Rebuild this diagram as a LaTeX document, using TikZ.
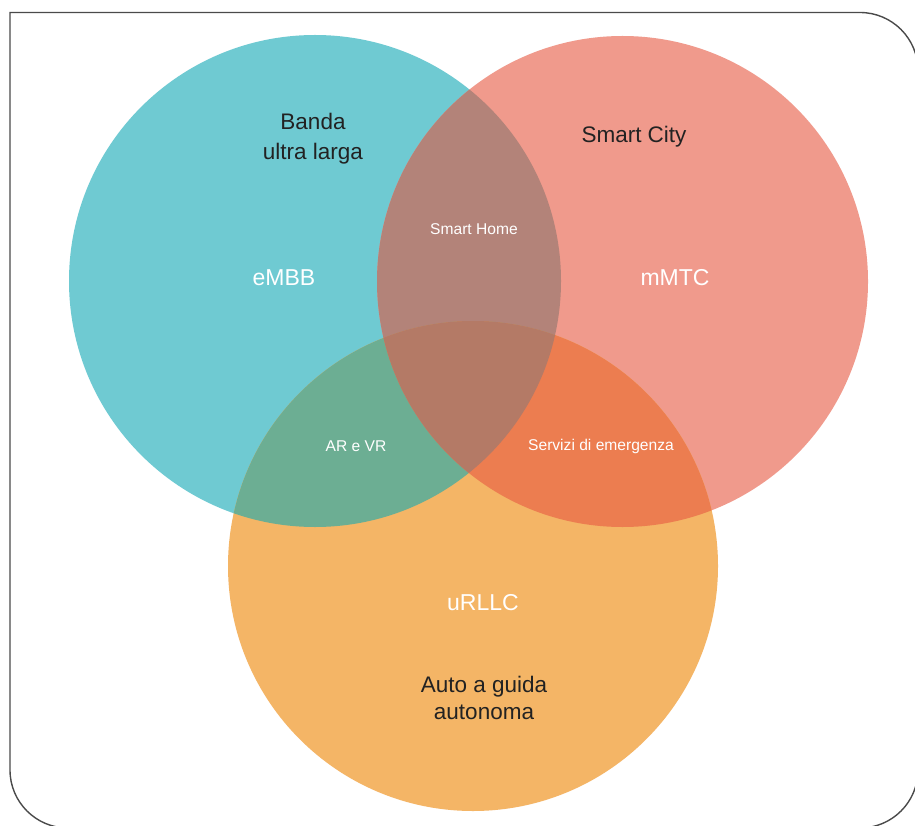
\documentclass[tikz,border=0pt]{standalone}
\usepackage{fontspec}
\setmainfont{Liberation Sans}
\definecolor{cteal}{HTML}{6FCAD2}
\definecolor{cred}{HTML}{F09A8C}
\definecolor{corange}{HTML}{F4B566}
\definecolor{ctr}{HTML}{B38379}
\definecolor{cto}{HTML}{6CAE93}
\definecolor{cro}{HTML}{EC7D50}
\definecolor{ccenter}{HTML}{B47A66}
\definecolor{cframe}{HTML}{4A4A4A}
\definecolor{ctext}{HTML}{222222}
\tikzset{
  framestyle/.style={draw=cframe, line width=1.4pt},
  setcircle/.style={circle, inner sep=0pt, outer sep=0pt, draw=none},
  darklabel/.style={text=ctext, align=center, font=\fontsize{22.5}{27}\selectfont},
  biglabel/.style={text=white, align=center, font=\fontsize{23}{27}\selectfont},
  smalllabel/.style={text=white, align=center, font=\fontsize{15.6}{18}\selectfont},
}
\begin{document}
\begin{tikzpicture}[x=1pt, y=-1pt]
\useasboundingbox (0,0) rectangle (915,826);
\fill[white] (0,0) rectangle (915,826);
% frame
\draw[framestyle] (10,400) -- (10,12.5) -- (400,12.5) [rounded corners=58pt] -- (918,12.5) -- (918,828) -- (10,828) -- (10,400);
% centres
\coordinate (cT) at (315,281);
\coordinate (cR) at (622.5,281.5);
\coordinate (cO) at (473,566);
% base circles
\node[setcircle, fill=cteal, minimum size=492pt] (embbset) at (cT) {};
\node[setcircle, fill=cred, minimum size=491pt] (mmtcset) at (cR) {};
\node[setcircle, fill=corange, minimum size=490pt] (urllcset) at (cO) {};
% overlaps
\begin{scope}
  \clip (cT) circle (246);
  \fill[ctr] (cR) circle (245.5);
  \fill[cto] (cO) circle (245);
\end{scope}
\begin{scope}
  \clip (cR) circle (245.5);
  \fill[cro] (cO) circle (245);
\end{scope}
\begin{scope}
  \clip (cT) circle (246);
  \clip (cR) circle (245.5);
  \fill[ccenter] (cO) circle (245);
\end{scope}
% labels
\node[darklabel, font=\fontsize{22.5}{30}\selectfont] (banda) at (313,139) {Banda\\ultra larga};
\node[darklabel] (smartcity) at (634,137) {Smart City};
\node[biglabel] (embb) at (284,278) {eMBB};
\node[biglabel] (mmtc) at (675,278) {mMTC};
\node[smalllabel] (smarthome) at (474,229) {Smart Home};
\node[smalllabel] (arvr) at (356,446) {AR e VR};
\node[smalllabel] (servizi) at (601,446) {Servizi di emergenza};
\node[biglabel] (urllc) at (483,603) {uRLLC};
\node[darklabel] (auto) at (484,698) {Auto a guida\\autonoma};
\end{tikzpicture}
\end{document}
